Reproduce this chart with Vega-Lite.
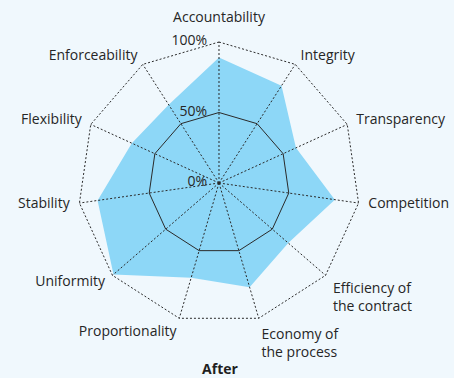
{
  "$schema": "https://vega.github.io/schema/vega-lite/v6.json",
  "width": 454,
  "height": 378,
  "autosize": {"type": "none"},
  "padding": 0,
  "background": "#f0f8fd",
  "config": {"view": {"stroke": null}, "text": {"font": "Open Sans", "fontSize": 14, "color": "#262626"}},
  "title": {"text": "After", "orient": "bottom", "anchor": "middle", "baseline": "alphabetic", "offset": -4, "dx": -7, "font": "Open Sans", "fontSize": 14, "fontWeight": "bold", "color": "#1f1f1f"},
  "datasets": {
    "dims": [
      {"dimension": "Accountability", "value": 89},
      {"dimension": "Integrity", "value": 82},
      {"dimension": "Transparency", "value": 60},
      {"dimension": "Competition", "value": 83},
      {"dimension": "Efficiency of\nthe contract", "value": 65},
      {"dimension": "Economy of\nthe process", "value": 77},
      {"dimension": "Proportionality", "value": 70},
      {"dimension": "Uniformity", "value": 99},
      {"dimension": "Stability", "value": 87},
      {"dimension": "Flexibility", "value": 68},
      {"dimension": "Enforceability", "value": 66}
    ],
    "ticks": [
      {"tick": "0%", "level": 0},
      {"tick": "50%", "level": 50},
      {"tick": "100%", "level": 100}
    ]
  },
  "layer": [
    {
      "data": {"name": "dims"},
      "transform": [
        {"window": [{"op": "row_number", "as": "rn"}]},
        {"calculate": "(datum.rn - 1) * 2 * PI / 11", "as": "ang"},
        {"calculate": "datum.value * sin(datum.ang)", "as": "px"},
        {"calculate": "datum.value * cos(datum.ang)", "as": "py"},
        {"calculate": "100 * sin(datum.ang)", "as": "ox"},
        {"calculate": "100 * cos(datum.ang)", "as": "oy"},
        {"calculate": "50 * sin(datum.ang)", "as": "mx"},
        {"calculate": "50 * cos(datum.ang)", "as": "my"},
        {"calculate": "107 * sin(datum.ang)", "as": "lx"},
        {"calculate": "107 * cos(datum.ang)", "as": "ly"},
        {"calculate": "0", "as": "cz"}
      ],
      "layer": [
        {
          "mark": {"type": "line", "interpolate": "linear-closed", "fill": "#8dd7f7", "stroke": "#8dd7f7", "strokeWidth": 0},
          "encoding": {
            "x": {"field": "px", "type": "quantitative", "scale": {"domain": [-155.32, 166.67]}, "axis": null},
            "y": {"field": "py", "type": "quantitative", "scale": {"domain": [-138.3, 129.79]}, "axis": null},
            "order": {"field": "rn", "type": "quantitative"}
          }
        },
        {
          "mark": {"type": "line", "interpolate": "linear-closed", "stroke": "#2a2a2a", "strokeWidth": 1, "strokeDash": [2, 2]},
          "encoding": {
            "x": {"field": "ox", "type": "quantitative", "scale": {"domain": [-155.32, 166.67]}, "axis": null},
            "y": {"field": "oy", "type": "quantitative", "scale": {"domain": [-138.3, 129.79]}, "axis": null},
            "order": {"field": "rn", "type": "quantitative"}
          }
        },
        {
          "mark": {"type": "line", "interpolate": "linear-closed", "stroke": "#2a2a2a", "strokeWidth": 1},
          "encoding": {
            "x": {"field": "mx", "type": "quantitative", "scale": {"domain": [-155.32, 166.67]}, "axis": null},
            "y": {"field": "my", "type": "quantitative", "scale": {"domain": [-138.3, 129.79]}, "axis": null},
            "order": {"field": "rn", "type": "quantitative"}
          }
        },
        {
          "mark": {"type": "rule", "stroke": "#2a2a2a", "strokeWidth": 1, "strokeDash": [2, 2]},
          "encoding": {
            "x": {"field": "cz", "type": "quantitative", "scale": {"domain": [-155.32, 166.67]}, "axis": null},
            "y": {"field": "cz", "type": "quantitative", "scale": {"domain": [-138.3, 129.79]}, "axis": null},
            "x2": {"field": "ox"},
            "y2": {"field": "oy"}
          }
        },
        {
          "transform": [{"filter": "datum.rn == 1"}],
          "mark": {"type": "text", "align": "center", "baseline": "alphabetic", "dy": -10},
          "encoding": {
            "x": {"field": "lx", "type": "quantitative", "scale": {"domain": [-155.32, 166.67]}, "axis": null},
            "y": {"field": "ly", "type": "quantitative", "scale": {"domain": [-138.3, 129.79]}, "axis": null},
            "text": {"field": "dimension"}
          }
        },
        {
          "transform": [{"filter": "datum.rn >= 2 && datum.rn <= 4"}],
          "mark": {"type": "text", "align": "left", "baseline": "middle"},
          "encoding": {
            "x": {"field": "lx", "type": "quantitative", "scale": {"domain": [-155.32, 166.67]}, "axis": null},
            "y": {"field": "ly", "type": "quantitative", "scale": {"domain": [-138.3, 129.79]}, "axis": null},
            "text": {"field": "dimension"}
          }
        },
        {
          "transform": [{"filter": "datum.rn == 5 || datum.rn == 6"}],
          "mark": {"type": "text", "align": "left", "baseline": "top", "lineBreak": "\n", "lineHeight": 18},
          "encoding": {
            "x": {"field": "lx", "type": "quantitative", "scale": {"domain": [-155.32, 166.67]}, "axis": null},
            "y": {"field": "ly", "type": "quantitative", "scale": {"domain": [-138.3, 129.79]}, "axis": null},
            "text": {"field": "dimension"}
          }
        },
        {
          "transform": [{"filter": "datum.rn == 7"}],
          "mark": {"type": "text", "align": "right", "baseline": "middle", "dy": 4},
          "encoding": {
            "x": {"field": "lx", "type": "quantitative", "scale": {"domain": [-155.32, 166.67]}, "axis": null},
            "y": {"field": "ly", "type": "quantitative", "scale": {"domain": [-138.3, 129.79]}, "axis": null},
            "text": {"field": "dimension"}
          }
        },
        {
          "transform": [{"filter": "datum.rn >= 8"}],
          "mark": {"type": "text", "align": "right", "baseline": "middle"},
          "encoding": {
            "x": {"field": "lx", "type": "quantitative", "scale": {"domain": [-155.32, 166.67]}, "axis": null},
            "y": {"field": "ly", "type": "quantitative", "scale": {"domain": [-138.3, 129.79]}, "axis": null},
            "text": {"field": "dimension"}
          }
        }
      ]
    },
    {
      "data": {"name": "ticks"},
      "transform": [{"calculate": "0", "as": "cz"}],
      "mark": {"type": "text", "align": "right", "baseline": "middle", "dx": -12, "dy": -1},
      "encoding": {
        "x": {"field": "cz", "type": "quantitative", "scale": {"domain": [-155.32, 166.67]}, "axis": null},
        "y": {"field": "level", "type": "quantitative", "scale": {"domain": [-138.3, 129.79]}, "axis": null},
        "text": {"field": "tick"}
      }
    }
  ]
}
